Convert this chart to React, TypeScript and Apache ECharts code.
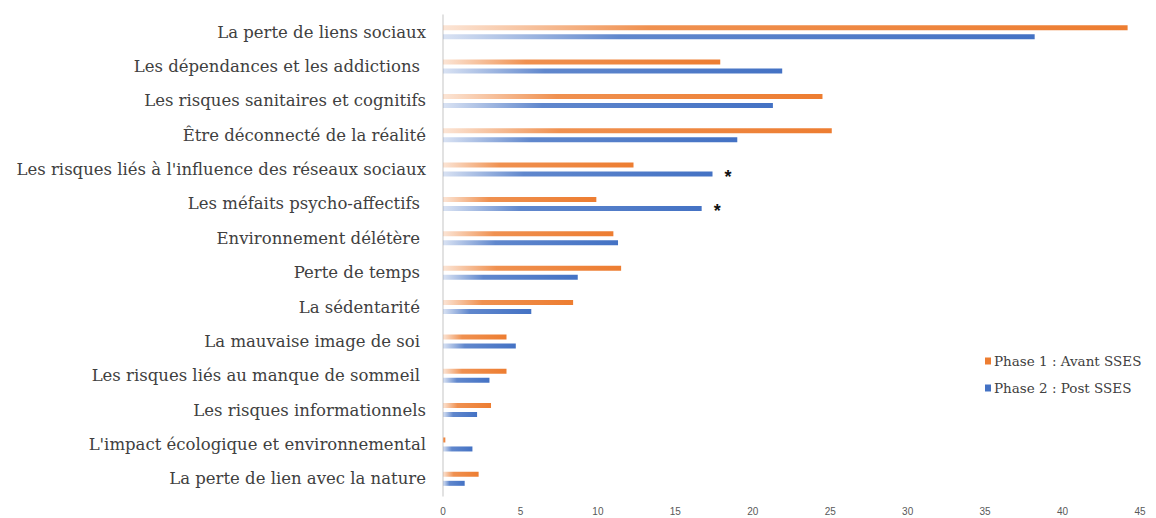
import React, { useEffect, useRef } from "react";
import * as echarts from "echarts";

const categories = [
  "La perte de liens sociaux",
  "Les dépendances et les addictions",
  "Les risques sanitaires et cognitifs",
  "Être déconnecté de la réalité",
  "Les risques liés à l'influence des réseaux sociaux",
  "Les méfaits psycho-affectifs",
  "Environnement délétère",
  "Perte de temps",
  "La sédentarité",
  "La mauvaise image de soi",
  "Les risques liés au manque de sommeil",
  "Les risques informationnels",
  "L'impact écologique et environnemental",
  "La perte de lien avec la nature",
];
const trailingSpace = [false, true, false, false, false, true, true, true, true, true, true, false, false, false];

const phase1 = [44.2, 17.9, 24.5, 25.1, 12.3, 9.9, 11.0, 11.5, 8.4, 4.1, 4.1, 3.1, 0.15, 2.3];
const phase2 = [38.2, 21.9, 21.3, 19.0, 17.4, 16.7, 11.3, 8.7, 5.7, 4.7, 3.0, 2.2, 1.9, 1.4];
const significant = [false, false, false, false, true, true, false, false, false, false, false, false, false, false];

const seriesNames = ["Phase 1 : Avant SSES", "Phase 2 : Post SSES"];
const xTicks = [0, 5, 10, 15, 20, 25, 30, 35, 40, 45];

function grad(r: number, g: number, b: number) {
  return new echarts.graphic.LinearGradient(0, 0, 1, 0, [
    { offset: 0, color: `rgba(${r},${g},${b},0.2)` },
    { offset: 0.3, color: `rgba(${r},${g},${b},0.85)` },
    { offset: 1, color: `rgba(${r},${g},${b},1)` },
  ]);
}

export default function App() {
  const ref = useRef<HTMLDivElement>(null);
  useEffect(() => {
    if (!ref.current) return;
    const chart = echarts.init(ref.current, null, { renderer: "svg" });
    const orange = grad(237, 125, 49);
    const blue = grad(68, 114, 196);
    chart.setOption({
      animation: false,
      backgroundColor: "#ffffff",
      grid: { left: 443, right: 16, top: 15, bottom: 22, containLabel: false },
      legend: {
        orient: "vertical",
        left: 980,
        top: 349,
        itemWidth: 6,
        itemHeight: 7,
        itemGap: 13,
        icon: "rect",
        data: [
          { name: seriesNames[0], itemStyle: { color: "#ED7D31" } },
          { name: seriesNames[1], itemStyle: { color: "#4472C4" } },
        ],
        textStyle: { fontFamily: "DejaVu Serif", fontSize: 13.5, color: "#404040", padding: [0, 0, 0, -2] },
      },
      xAxis: {
        type: "value",
        min: 0,
        max: 45,
        interval: 5,
        axisLine: { show: false },
        axisTick: { show: false },
        splitLine: { show: false },
        axisLabel: {
          margin: 10,
          fontFamily: "Liberation Sans",
          fontSize: 10,
          color: "#595959",
          formatter: (v: number) => (xTicks.includes(v) ? String(v) : ""),
        },
      },
      yAxis: {
        type: "category",
        inverse: true,
        data: categories.map((c, i) => ({
          value: c,
          textStyle: { padding: trailingSpace[i] ? [0, 6, 0, 0] : 0 },
        })),
        axisLine: { show: true, lineStyle: { color: "#d9d9d9", width: 1.5 } },
        axisTick: { show: false },
        axisLabel: {
          margin: 17,
          fontFamily: "DejaVu Serif",
          fontSize: 16.5,
          color: "#404040",
        },
      },
      series: [
        {
          name: seriesNames[0],
          type: "bar",
          data: phase1,
          barWidth: 5,
          barGap: "80%",
          itemStyle: { color: orange },
        },
        {
          name: seriesNames[1],
          type: "bar",
          data: phase2.map((v, i) =>
            significant[i]
              ? {
                  value: v,
                  label: {
                    show: true,
                    position: "right",
                    distance: 12,
                    formatter: "*",
                    fontSize: 18,
                    fontWeight: "bold",
                    color: "#111111",
                    fontFamily: "Liberation Sans",
                    offset: [0, 3],
                  },
                }
              : v
          ),
          barWidth: 5,
          itemStyle: { color: blue },
        },
      ],
    });
    return () => chart.dispose();
  }, []);
  return (
    <div
      ref={ref}
      style={{ position: "fixed", left: 0, top: 0, width: 1156, height: 518, background: "#fff" }}
    />
  );
}
